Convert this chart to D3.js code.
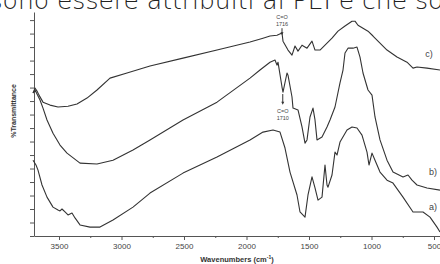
<!DOCTYPE html>
<html>
<head>
<meta charset="utf-8">
<script src="https://cdn.jsdelivr.net/npm/d3@7"></script>
<style>
  body { margin: 0; background: #fff; }
  svg { display: block; }
</style>
</head>
<body>
<script>
var w = 440;
var h = 264;

// Data: wavenumber (cm-1) and %T (arbitrary units)
var waveA = [3708,3684,3668,3636,3596,3548,3508,3492,3476,3452,3428,3396,3372,3332,3252,3172,3068,2908,2772,2508,2236,1972,1868,1788,1732,1692,1652,1596,1572,1532,1508,1476,1452,1428,1396,1372,1356,1348,1316,1292,1276,1252,1196,1156,1116,1076,1036,1020,996,972,932,876,828,748,668,588,532,476,452];
var transA = [28.1,26.3,24.4,18.9,14.4,10.7,9.6,9.3,10.0,8.9,7.8,8.5,6.7,4.1,3.3,3.3,5.9,10.7,15.9,23.3,29.3,35.6,38.5,39.3,38.5,32.6,23.7,15.2,8.9,7.0,15.2,21.9,17.8,13.3,14.4,26.3,18.9,18.1,22.6,31.1,30.0,34.8,39.3,40.4,40.0,37.4,31.1,26.3,30.7,28.1,23.7,20.7,19.6,14.4,8.9,8.9,7.0,3.3,1.5];

var waveB = [3708,3692,3668,3652,3628,3596,3548,3492,3436,3332,3196,3068,2908,2772,2508,2236,1972,1892,1812,1772,1756,1748,1716,1708,1676,1668,1636,1628,1588,1556,1532,1516,1492,1468,1452,1436,1396,1356,1332,1292,1252,1228,1212,1188,1148,1116,1092,1068,1028,996,972,932,876,828,748,708,676,636,556,452];
var transB = [53.0,54.1,51.9,50.4,47.4,43.0,38.1,33.7,30.7,27.0,26.7,28.1,31.9,35.6,43.0,49.6,58.5,61.5,64.4,65.2,63.3,64.4,55.2,53.3,60.4,59.6,51.5,47.4,46.7,40.4,34.4,35.6,44.1,47.4,43.0,35.6,36.7,40.4,43.0,47.8,56.7,61.5,67.8,69.6,69.6,70.0,66.3,60.4,54.1,52.2,44.1,35.6,28.1,23.7,21.9,22.6,20.7,18.9,17.8,17.0];

var waveC = [3708,3692,3676,3660,3628,3572,3508,3428,3356,3276,3196,3092,2956,2772,2508,2236,1972,1868,1812,1756,1716,1708,1668,1636,1612,1588,1556,1516,1476,1452,1412,1372,1316,1268,1212,1156,1132,1108,1068,1028,988,948,876,796,716,668,636,556,452];
var transC = [53.0,54.8,53.7,52.2,49.6,48.5,47.8,48.1,48.9,51.1,54.1,58.5,60.4,63.0,65.9,68.9,71.9,73.3,74.1,74.4,75.2,72.2,68.9,67.0,70.4,68.5,70.7,69.6,72.2,68.9,68.9,70.7,73.3,75.9,77.8,79.6,79.6,78.1,77.0,75.9,74.1,72.2,68.9,66.3,64.4,62.2,62.6,62.2,61.5];

var seriesNames = ["a)", "b)", "c)"];
var labelPos = [[540, 9.5], [540, 22.5], [570, 66.5]];

var xTicks = [3500, 3000, 2500, 2000, 1500, 1000, 500];
var xMinor = [3250, 2750, 2250, 1750, 1250, 750];
var yTicks = d3.range(0, 81, 5);

// C=O markers: [wavenumber, text, top of arrow, bottom of arrow]
var peakLabels = [
	{ wave: 1716, text: ["C=O", "1716"], above: true, y0: 77, y1: 74.4 },
	{ wave: 1710, text: ["C=O", "1710"], above: false, y0: 52.6, y1: 48.6 }
];

var topText = "possono essere attribuiti al PEI e che sono";

var svg = d3.select("body")
	.append("svg")
	.attr("width", w)
	.attr("height", h);

var x = d3.scaleLinear().domain([3700, 452]).range([34, 440]);
var y = d3.scaleLinear().domain([0, 83]).range([236, 12]);

// Page text cut at the top of the picture (as in the scan)
var tt = svg.append("text")
	.attr("font-family", "DejaVu Sans")
	.attr("font-weight", 200)
	.attr("font-size", 25)
	.attr("fill", "#222")
	.attr("y", 8.5)
	.text(topText);
var pre = tt.node().getSubStringLength(0, 8);
tt.attr("x", 57 - pre);

// Axes
var xAxis = svg.append("g")
	.attr("transform", "translate(0," + y(0) + ")")
	.call(d3.axisBottom(x).tickValues(xTicks).tickSize(4).tickSizeOuter(0).tickPadding(3).tickFormat(d3.format("d")));
svg.append("g")
	.attr("transform", "translate(0," + y(0) + ")")
	.call(d3.axisBottom(x).tickValues(xMinor).tickSize(2).tickSizeOuter(0).tickFormat(""))
	.select(".domain").remove();
var yAxis = svg.append("g")
	.attr("transform", "translate(" + x(3700) + ",0)")
	.call(d3.axisLeft(y).tickValues(yTicks).tickSize(4).tickSizeOuter(0).tickFormat(""));

svg.selectAll(".domain").attr("stroke", "#555");
svg.selectAll(".tick line").attr("stroke", "#555");
xAxis.selectAll("text")
	.attr("font-family", "Liberation Sans")
	.attr("font-size", 8)
	.attr("fill", "#444");

svg.append("text")
	.attr("x", 237)
	.attr("y", 262)
	.attr("text-anchor", "middle")
	.attr("font-family", "Liberation Sans")
	.attr("font-weight", "bold")
	.attr("font-size", 7.5)
	.attr("fill", "#333")
	.text("Wavenumbers (cm")
	.append("tspan").attr("dy", -3).attr("font-size", 5).text("-1")
	.select(function() { return this.parentNode; })
	.append("tspan").attr("dy", 3).text(")");

svg.append("text")
	.attr("transform", "translate(16,111) rotate(-90)")
	.attr("text-anchor", "middle")
	.attr("font-family", "Liberation Sans Narrow, Liberation Sans")
	.attr("font-weight", "bold")
	.attr("font-size", 7)
	.attr("fill", "#333")
	.text("%Transmittance");

// Spectra
var series = [
	d3.zip(waveA, transA),
	d3.zip(waveB, transB),
	d3.zip(waveC, transC)
];
var line = d3.line()
	.x(function(d) { return x(d[0]); })
	.y(function(d) { return y(d[1]); });

svg.selectAll("path.spec")
	.data(series)
	.enter()
	.append("path")
	.attr("class", "spec")
	.attr("d", line)
	.attr("fill", "none")
	.attr("stroke", "#333")
	.attr("stroke-width", 1.1)
	.attr("stroke-linejoin", "round");

svg.selectAll("text.lab")
	.data(seriesNames)
	.enter()
	.append("text")
	.attr("class", "lab")
	.attr("x", function(d, i) { return x(labelPos[i][0]); })
	.attr("y", function(d, i) { return y(labelPos[i][1]); })
	.attr("font-family", "Liberation Sans")
	.attr("font-size", 9)
	.attr("fill", "#444")
	.text(function(d) { return d; });

// C=O markers
peakLabels.forEach(function(p) {
	var px = x(p.wave);
	svg.append("line")
		.attr("x1", px).attr("x2", px)
		.attr("y1", y(p.y0)).attr("y2", y(p.y1) - 2)
		.attr("stroke", "#333").attr("stroke-width", 1);
	svg.append("path")
		.attr("d", "M" + (px - 1.5) + "," + (y(p.y1) - 3) + "L" + (px + 1.5) + "," + (y(p.y1) - 3) + "L" + px + "," + y(p.y1) + "Z")
		.attr("fill", "#333");
	var ty = p.above ? y(p.y0) - 9 : y(p.y1) + 8;
	p.text.forEach(function(t, k) {
		svg.append("text")
			.attr("x", px)
			.attr("y", ty + k * 7)
			.attr("text-anchor", "middle")
			.attr("font-family", "Liberation Sans")
			.attr("font-size", 5.5)
			.attr("fill", "#444")
			.text(t);
	});
});
</script>
</body>
</html>
